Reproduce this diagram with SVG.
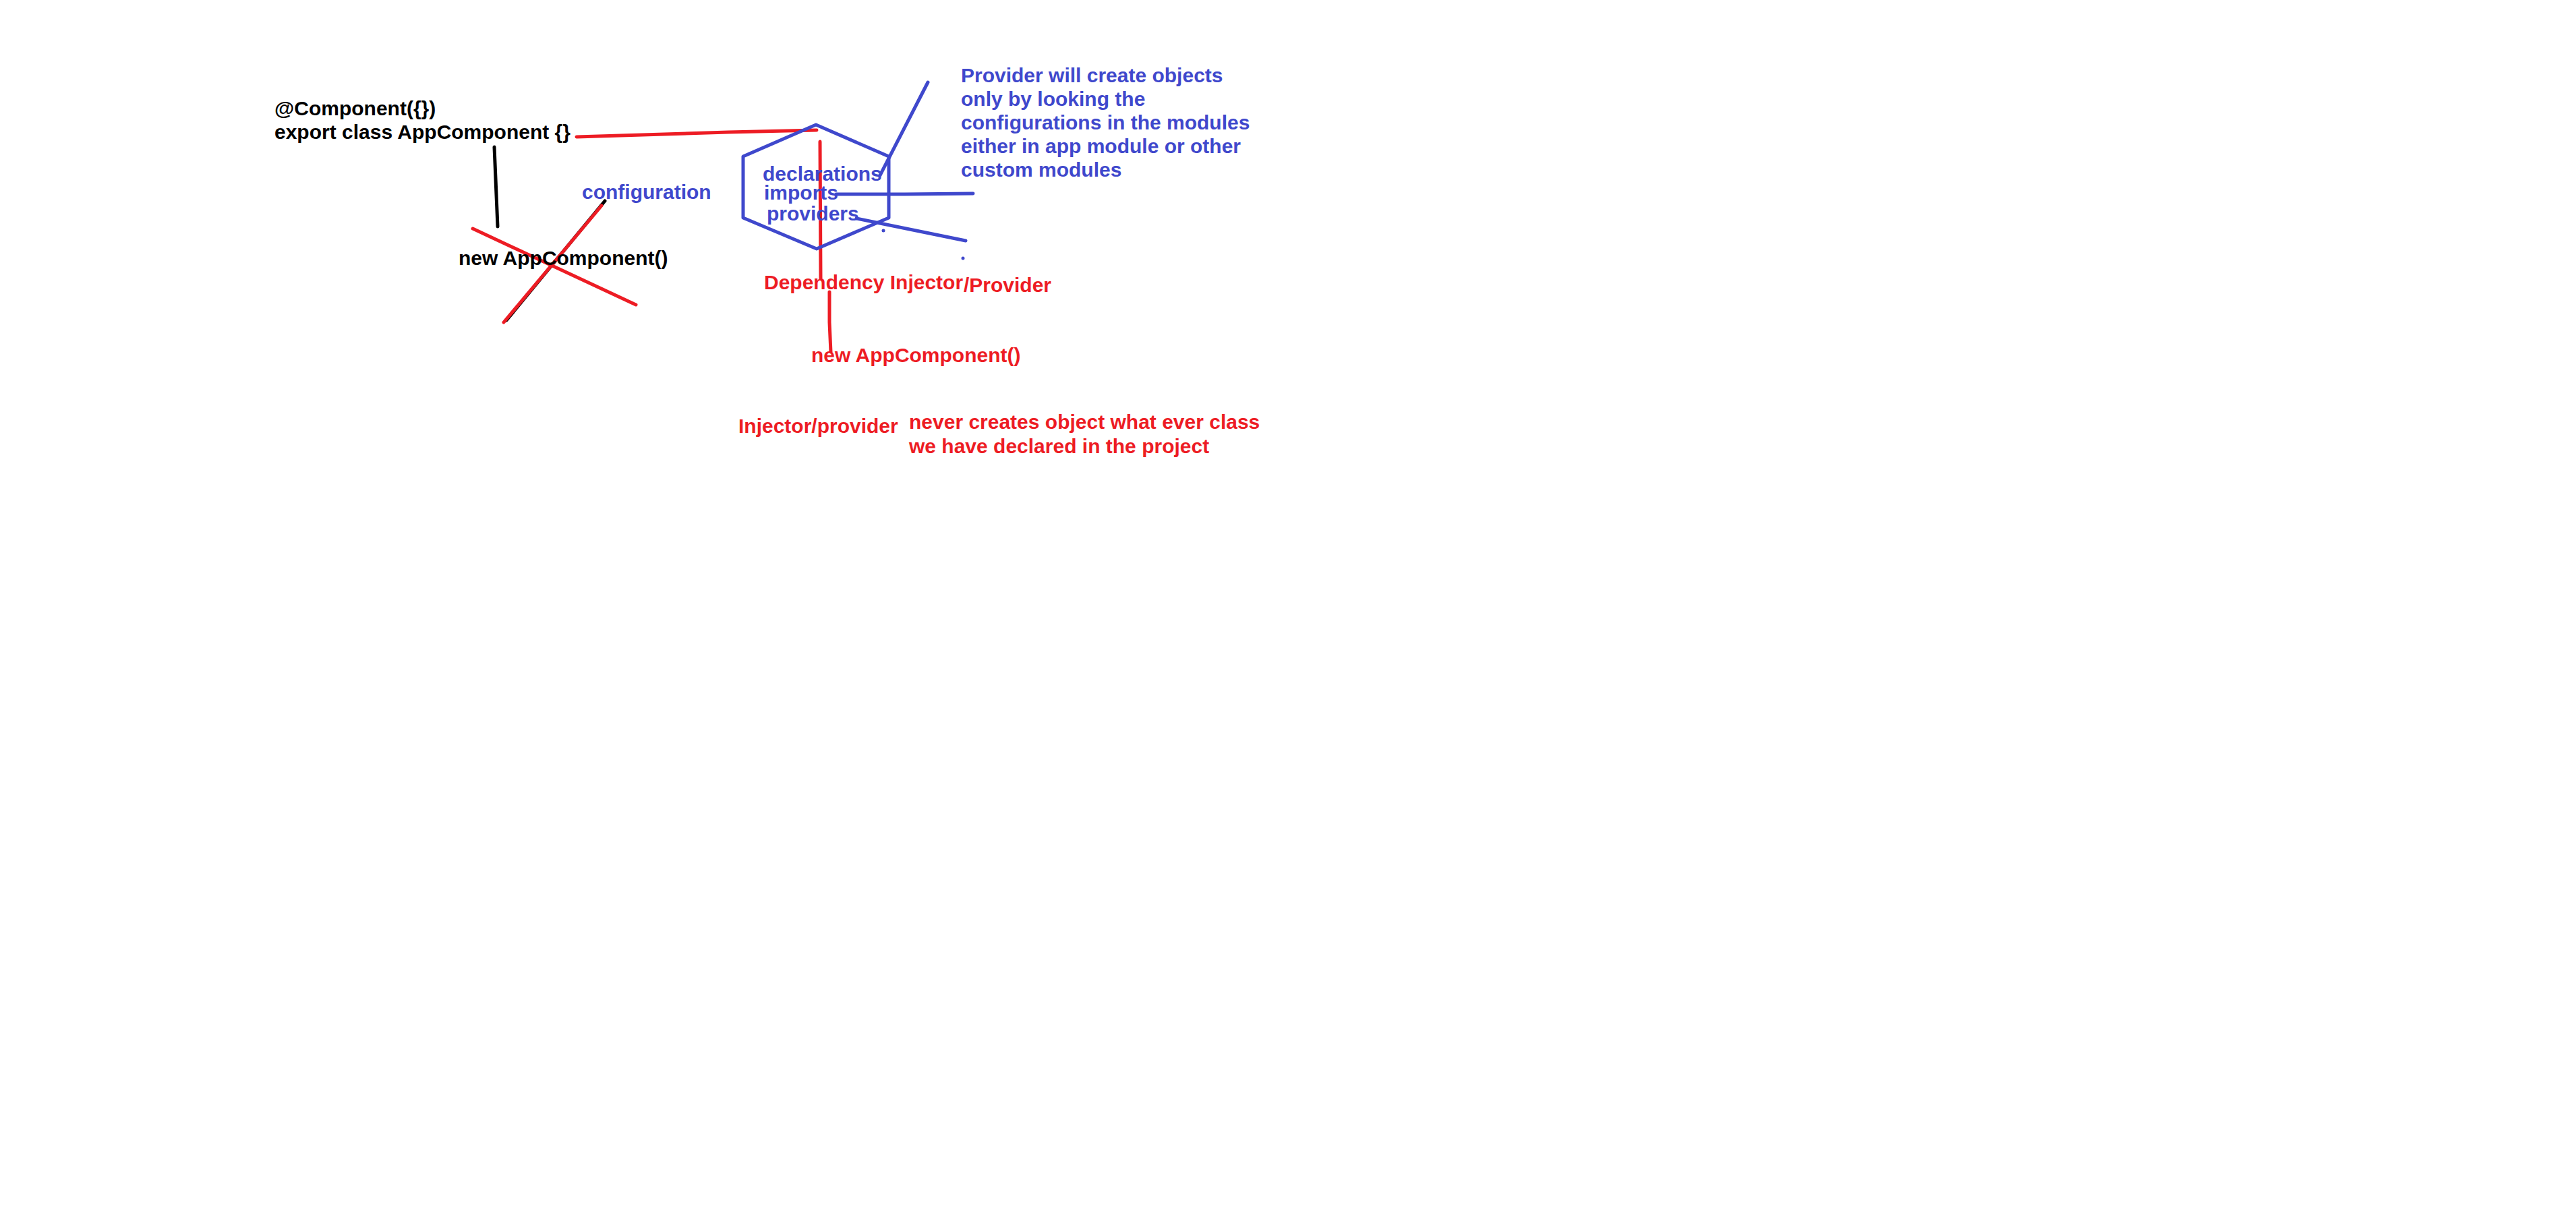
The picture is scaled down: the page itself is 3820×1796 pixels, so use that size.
<svg xmlns="http://www.w3.org/2000/svg" width="3820" height="1796" viewBox="0 0 3820 1796">
  <style>
    .t { font-family: "Liberation Sans", Arial, sans-serif; font-size: 30px; font-weight: bold; }
    .k { fill: #000000; }
    .b { fill: #3F48CC; }
    .r { fill: #ED1C24; }
    .lr { stroke: #ED1C24; stroke-width: 5; fill: none; stroke-linecap: round; stroke-linejoin: round; }
    .lb { stroke: #3F48CC; stroke-width: 5; fill: none; stroke-linecap: round; stroke-linejoin: round; }
    .lk { stroke: #000000; stroke-width: 5; fill: none; stroke-linecap: round; stroke-linejoin: round; }
  </style>
  <rect x="0" y="0" width="3820" height="1796" fill="#FFFFFF"/>

  <g id="connectors">
    <polyline class="lr" points="855,203 920,201 1080,196 1211,193"/>
    <line class="lk" x1="733" y1="218" x2="738" y2="336"/>
    <line class="lk" x1="751" y1="475" x2="897" y2="298"/>
    <line class="lr" x1="701" y1="339" x2="943" y2="452"/>
    <line class="lr" x1="747" y1="478" x2="892" y2="305"/>
    <line class="lr" x1="1216" y1="210" x2="1217" y2="413"/>
    <polyline class="lr" points="1230,433 1230,478 1232,522"/>
    <line class="lb" x1="1305" y1="260" x2="1376" y2="122"/>
    <polyline class="lb" points="1240,288 1342,288 1443,287"/>
    <line class="lb" x1="1270" y1="324" x2="1432" y2="357"/>
    <circle cx="1310" cy="342" r="2.5" fill="#3F48CC"/>
    <circle cx="1428" cy="383" r="2.5" fill="#3F48CC"/>
  </g>

  <g id="component-decl">
    <text class="t k" x="407" y="171">@Component({})</text>
    <text class="t k" x="407" y="206">export class AppComponent {}</text>
  </g>

  <g id="new-appcomponent-crossed">
    <text class="t k" x="680" y="393">new AppComponent()</text>
  </g>

  <g id="configuration-label">
    <text class="t b" x="863" y="295">configuration</text>
  </g>

  <g id="module-hexagon">
    <polygon class="lb" points="1210,185 1318,232 1318,323 1211,369 1102,323 1102,232"/>
    <text class="t b" x="1131" y="268">declarations</text>
    <text class="t b" x="1133" y="296">imports</text>
    <text class="t b" x="1137" y="327">providers</text>
  </g>

  <g id="provider-note">
    <text class="t b" x="1425" y="122">Provider will create objects</text>
    <text class="t b" x="1425" y="157">only by looking the</text>
    <text class="t b" x="1425" y="192">configurations in the modules</text>
    <text class="t b" x="1425" y="227">either in app module or other</text>
    <text class="t b" x="1425" y="262">custom modules</text>
  </g>

  <g id="dependency-injector">
    <text class="t r" x="1133" y="429">Dependency Injector</text>
    <text class="t r" x="1429" y="433">/Provider</text>
  </g>

  <g id="new-appcomponent-red">
    <text class="t r" x="1203" y="537">new AppComponent()</text>
  </g>

  <g id="injector-provider">
    <text class="t r" x="1095" y="642">Injector/provider</text>
  </g>

  <g id="never-creates-note">
    <text class="t r" x="1348" y="636">never creates object what ever class</text>
    <text class="t r" x="1348" y="672">we have declared in the project</text>
  </g>
</svg>
